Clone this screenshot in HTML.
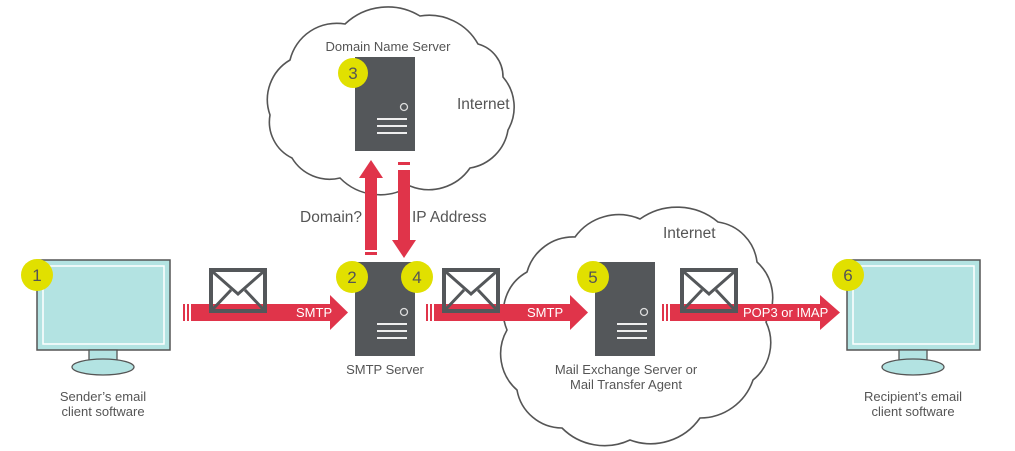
<!DOCTYPE html>
<html><head><meta charset="utf-8"><style>
body{margin:0;background:#fff;}
svg{display:block;font-family:"Liberation Sans",sans-serif;}
</style></head><body>
<svg width="1015" height="451" viewBox="0 0 1015 451" xmlns="http://www.w3.org/2000/svg">
<defs>
<g id="srv">
<rect x="0" y="0" width="60" height="94" fill="#54575a"/>
<circle cx="49" cy="50" r="3.5" fill="none" stroke="#ddd" stroke-width="1.3"/>
<rect x="22" y="61" width="30" height="2" fill="#eee"/>
<rect x="22" y="68" width="30" height="2" fill="#eee"/>
<rect x="22" y="75" width="30" height="2" fill="#eee"/>
</g>
<g id="env">
<rect x="2" y="2" width="54" height="41" fill="none" stroke="#54575a" stroke-width="4"/>
<path d="M4 4 L29 26 L54 4 M4 41 L22 22 M54 41 L36 22" fill="none" stroke="#54575a" stroke-width="3"/>
</g>
<g id="mon">
<rect x="0" y="0" width="133" height="90" fill="#b3e3e2" stroke="#555" stroke-width="1.5"/>
<rect x="6" y="6" width="121" height="78" fill="none" stroke="#fff" stroke-width="1.5"/>
<rect x="52" y="90" width="28" height="13" fill="#b3e3e2" stroke="#555" stroke-width="1.3"/>
<ellipse cx="66" cy="107" rx="31" ry="8" fill="#b3e3e2" stroke="#555" stroke-width="1.3"/>
</g>
</defs>
<!-- clouds -->
<path d="M290 60 A48 48 0 0 1 345 24 A62 62 0 0 1 420 16 A56 56 0 0 1 478 44 A34 34 0 0 1 503 77 A46 46 0 0 1 508 130 A46 46 0 0 1 470 168 A50 50 0 0 1 410 186 A56 56 0 0 1 340 178 A44 44 0 0 1 292 158 A40 40 0 0 1 270 115 A46 46 0 0 1 290 60 Z" fill="#fff" stroke="#555" stroke-width="1.6"/>
<path d="M527 272 A48 48 0 0 1 575 237 A54 54 0 0 1 640 219 A64 64 0 0 1 718 222 A46 46 0 0 1 757 262 A48 48 0 0 1 766 322 A48 48 0 0 1 753 380 A56 56 0 0 1 700 418 A60 60 0 0 1 630 440 A60 60 0 0 1 562 428 A46 46 0 0 1 517 390 A48 48 0 0 1 507 330 A46 46 0 0 1 527 272 Z" fill="#fff" stroke="#555" stroke-width="1.6"/>
<!-- vertical arrows -->
<g fill="#e0344a">
<rect x="365" y="175" width="12" height="75"/>
<polygon points="359,178 371,160 383,178"/>
<rect x="365" y="252" width="12" height="3" />
<rect x="398" y="170" width="12" height="72"/>
<polygon points="392,240 404,258 416,240"/>
<rect x="398" y="162" width="12" height="3"/>
</g>
<!-- horizontal arrows -->
<g fill="#e0344a">
<rect x="183" y="304" width="2" height="17"/><rect x="187" y="304" width="2" height="17"/>
<rect x="191" y="304" width="142" height="17"/>
<polygon points="330,295 348,312.5 330,330"/>
<rect x="426" y="304" width="2" height="17"/><rect x="430" y="304" width="2" height="17"/>
<rect x="434" y="304" width="138" height="17"/>
<polygon points="570,295 588,312.5 570,330"/>
<rect x="662" y="304" width="2" height="17"/><rect x="666" y="304" width="2" height="17"/>
<rect x="670" y="304" width="152" height="17"/>
<polygon points="820,295 840,312.5 820,330"/>
</g>
<use href="#env" x="209" y="268"/>
<use href="#env" x="442" y="268"/>
<use href="#env" x="680" y="268"/>
<g fill="#fff" font-size="13">
<text x="296" y="317">SMTP</text>
<text x="527" y="317">SMTP</text>
<text x="743" y="317">POP3 or IMAP</text>
</g>
<use href="#srv" x="355" y="57"/>
<use href="#srv" x="355" y="262"/>
<use href="#srv" x="595" y="262"/>
<use href="#mon" x="37" y="260"/>
<use href="#mon" x="847" y="260"/>
<g fill="#e1e000">
<circle cx="37" cy="275" r="16"/>
<circle cx="352" cy="277" r="16"/>
<circle cx="353" cy="73" r="15"/>
<circle cx="417" cy="277" r="16"/>
<circle cx="593" cy="277" r="16"/>
<circle cx="848" cy="275" r="16"/>
</g>
<g fill="#555" font-size="17" text-anchor="middle">
<text x="37" y="281">1</text>
<text x="352" y="283">2</text>
<text x="353" y="79">3</text>
<text x="417" y="283">4</text>
<text x="593" y="283">5</text>
<text x="848" y="281">6</text>
</g>
<g fill="#555" font-size="13" text-anchor="middle">
<text x="388" y="51">Domain Name Server</text>
<text x="385" y="374">SMTP Server</text>
<text x="626" y="374">Mail Exchange Server or</text>
<text x="626" y="389">Mail Transfer Agent</text>
<text x="103" y="401">Sender’s email</text>
<text x="103" y="416">client software</text>
<text x="913" y="401">Recipient’s email</text>
<text x="913" y="416">client software</text>
</g>
<g fill="#555" font-size="15.5">
<text x="457" y="109">Internet</text>
<text x="663" y="238">Internet</text>
<text x="300" y="222">Domain?</text>
<text x="412" y="222">IP Address</text>
</g>
</svg>
</body></html>
